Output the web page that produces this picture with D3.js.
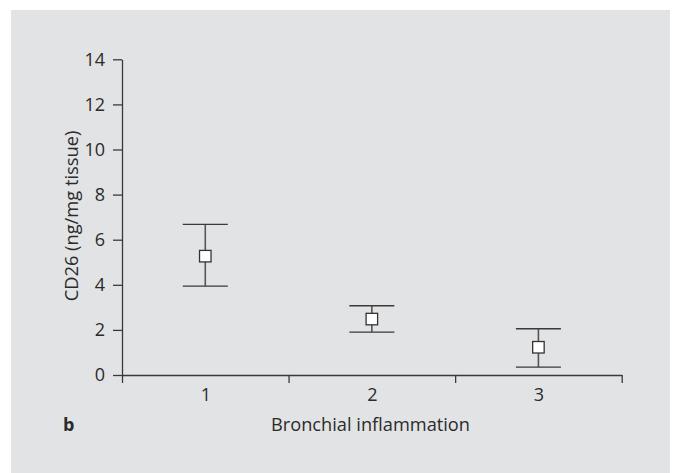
<!DOCTYPE html>
<html>
<head>
<meta charset="utf-8">
<script src="https://cdn.jsdelivr.net/npm/d3@7"></script>
<style>
  html, body { margin: 0; padding: 0; background: #ffffff; }
  svg { display: block; }
  text { font-family: "Open Sans", "Noto Sans", sans-serif; fill: #2b2b2b; }
</style>
</head>
<body>
<svg id="chart" width="680" height="473"></svg>
<script>
const categories = [1, 2, 3];
const means = [5.27, 2.48, 1.23];
const upper = [6.68, 3.07, 2.05];
const lower = [3.94, 1.90, 0.35];
const yTicks = [0, 2, 4, 6, 8, 10, 12, 14];
const xLabel = "Bronchial inflammation";
const yLabel = "CD26 (ng/mg tissue)";
const panelLabel = "b";

const svg = d3.select("#chart");
const W = 680, H = 473;
const margin = { left: 122, right: 58.3, top: 59.3, bottom: 98 };

svg.append("rect").attr("x", 11).attr("y", 10).attr("width", 659).attr("height", H - 10).attr("fill", "#e2e3e4");

const x = d3.scaleLinear().domain([0.5, 3.5]).range([margin.left, W - margin.right]);
const y = d3.scaleLinear().domain([0, 14]).range([H - margin.bottom, margin.top]);

const axisColor = "#3a3a3a";
const fontFam = '"Open Sans", "Noto Sans", sans-serif';

// y axis
const gy = svg.append("g").attr("transform", `translate(${margin.left},0)`)
  .call(d3.axisLeft(y).tickValues(yTicks).tickSize(9).tickSizeOuter(0).tickPadding(8));
// x axis ticks (boundaries)
const gx = svg.append("g").attr("transform", `translate(0,${y(0)})`)
  .call(d3.axisBottom(x).tickValues([0.5, 1.5, 2.5, 3.5]).tickFormat("").tickSize(8).tickSizeOuter(0));
// x labels
const gxl = svg.append("g").attr("transform", `translate(0,${y(0)})`)
  .call(d3.axisBottom(x).tickValues(categories).tickSize(0).tickPadding(13).tickFormat(d3.format("d")));
gxl.select(".domain").remove();

[gy, gx, gxl].forEach(g => {
  g.attr("font-size", 18).attr("font-family", fontFam);
  g.selectAll("path, line").attr("stroke", axisColor).attr("stroke-width", 1.3);
  g.selectAll("text").attr("font-size", 18).attr("fill", "#2b2b2b").attr("font-family", fontFam);
});

// error bars
const capW = 45, box = 11.5;
const eb = svg.append("g");
categories.forEach((c, i) => {
  eb.append("line").attr("x1", x(c)).attr("x2", x(c)).attr("y1", y(upper[i])).attr("y2", y(lower[i]))
    .attr("stroke", "#555").attr("stroke-width", 1.6);
  [upper[i], lower[i]].forEach(v => {
    eb.append("line").attr("x1", x(c) - capW / 2).attr("x2", x(c) + capW / 2)
      .attr("y1", y(v)).attr("y2", y(v)).attr("stroke", "#3a3a3a").attr("stroke-width", 1.4);
  });
  eb.append("rect").attr("x", x(c) - box / 2).attr("y", y(means[i]) - box / 2)
    .attr("width", box).attr("height", box).attr("fill", "#ffffff")
    .attr("stroke", "#333").attr("stroke-width", 1.3);
});

// axis titles
svg.append("text").attr("x", 271).attr("y", 431)
  .attr("font-size", 18.3).attr("textLength", 199).attr("lengthAdjust", "spacingAndGlyphs").text(xLabel);
svg.append("text").attr("transform", `translate(78,216) rotate(-90)`)
  .attr("text-anchor", "middle").attr("font-size", 18.3).text(yLabel);
svg.append("text").attr("x", 63).attr("y", 431).attr("font-size", 18).attr("font-weight", "bold").text(panelLabel);
</script>
</body>
</html>
